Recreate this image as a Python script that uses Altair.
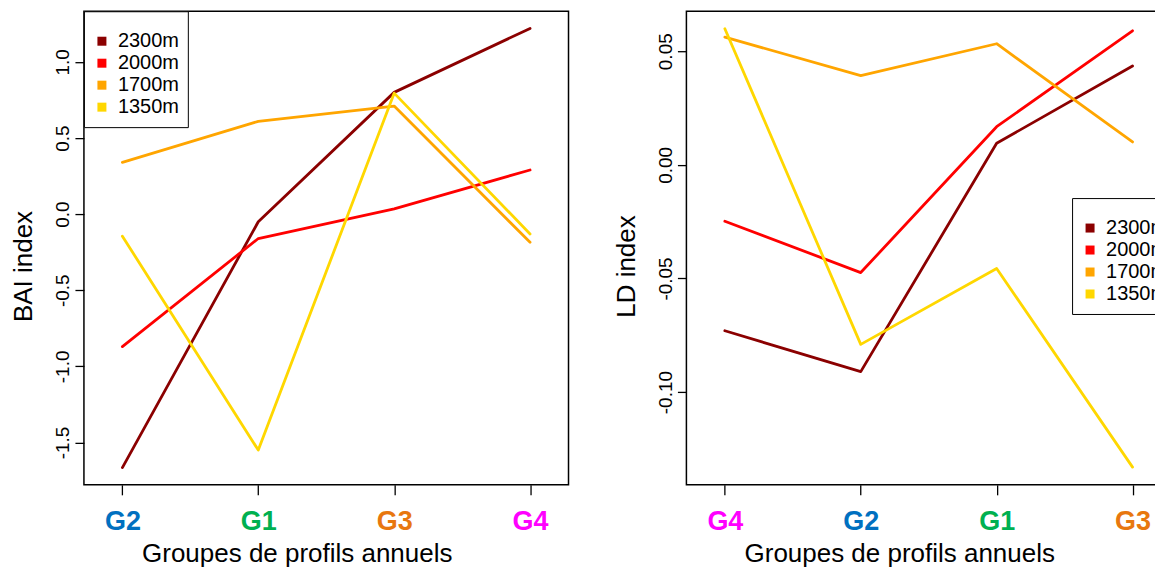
import altair as alt
import pandas as pd

# ---------------- data ----------------
series = ["2300m", "2000m", "1700m", "1350m"]
series_colors = ["#8B0000", "#FF0000", "#FFA500", "#FFD700"]

bai_groups = ["G2", "G1", "G3", "G4"]
bai_2300 = [-1.665, -0.05, 0.80, 1.22]
bai_2000 = [-0.87, -0.16, 0.035, 0.29]
bai_1700 = [0.34, 0.61, 0.71, -0.185]
bai_1350 = [-0.145, -1.55, 0.795, -0.13]

ld_groups = ["G4", "G2", "G1", "G3"]
ld_2300 = [-0.073, -0.091, 0.0095, 0.0435]
ld_2000 = [-0.0248, -0.0474, 0.0168, 0.059]
ld_1700 = [0.0562, 0.0393, 0.0533, 0.0101]
ld_1350 = [0.0599, -0.079, -0.0456, -0.133]

group_names = ["G1", "G2", "G3", "G4"]
group_colors = ["#00B050", "#0070C0", "#E8770F", "#FF00FF"]

bai_ticks = [-1.5, -1.0, -0.5, 0.0, 0.5, 1.0]
ld_ticks = [-0.10, -0.05, 0.0, 0.05]

x_title = "Groupes de profils annuels"
FONT = "Liberation Sans"


def make_df(groups, vals_list):
    rows = []
    for s, vals in zip(series, vals_list):
        for g, v in zip(groups, vals):
            rows.append({"groupe": g, "altitude": s, "value": v})
    return pd.DataFrame(rows)


bai_df = make_df(bai_groups, [bai_2300, bai_2000, bai_1700, bai_1350])
ld_df = make_df(ld_groups, [ld_2300, ld_2000, ld_1700, ld_1350])

label_color = {
    "condition": [
        {"test": f"datum.value === '{g}'", "value": c}
        for g, c in zip(group_names, group_colors)
    ],
    "value": "black",
}

PW, PH = 485, 474


def legend_props(**kw):
    return alt.Legend(
        title=" ",
        titleFontSize=12,
        titlePadding=0,
        padding=8,
        strokeColor="black",
        fillColor="white",
        labelFont=FONT,
        labelFontSize=20,
        labelColor="black",
        labelOffset=6,
        rowPadding=-2.5,
        symbolType="square",
        symbolSize=16,
        symbolStrokeWidth=5,
        symbolOpacity=1,
        **kw,
    )


def panel(df, groups, ydomain, yticks, fmt, ytitle, legend):
    x = alt.X(
        "groupe:N",
        sort=groups,
        scale=alt.Scale(type="point", domain=groups, padding=0.283),
        axis=alt.Axis(
            title=x_title,
            domain=False,
            grid=False,
            ticks=True,
            tickSize=10,
            tickColor="black",
            tickWidth=1.3,
            labelAngle=0,
            labelFont=FONT,
            labelFontSize=27,
            labelFontWeight="bold",
            labelColor=label_color,
            labelBaseline="alphabetic",
            labelPadding=35,
            titleFont=FONT,
            titleFontSize=26,
            titleFontWeight="normal",
            titleColor="black",
            titleX=213,
            titleY=77,
            titleAlign="center",
            titleBaseline="alphabetic",
        ),
    )
    y = alt.Y(
        "value:Q",
        scale=alt.Scale(domain=ydomain, nice=False, zero=False),
        axis=alt.Axis(
            title=ytitle,
            values=yticks,
            labelExpr=f"datum.value < 0 ? '-' + format(-datum.value, '{fmt}') : format(datum.value, '{fmt}')",
            domain=False,
            grid=False,
            tickSize=9,
            tickColor="black",
            tickWidth=1.3,
            labelAngle=270,
            labelAlign="center",
            labelBaseline="alphabetic",
            labelPadding=6,
            labelFont=FONT,
            labelFontSize=19,
            labelColor="black",
            titleFont=FONT,
            titleFontSize=26,
            titleFontWeight="normal",
            titleColor="black",
            titleAngle=270,
            titleX=-52,
            titleY=255,
            titleAlign="center",
            titleBaseline="alphabetic",
        ),
    )
    color = alt.Color(
        "altitude:N",
        scale=alt.Scale(domain=series, range=series_colors),
        legend=legend,
    )
    return (
        alt.Chart(df)
        .mark_line(strokeWidth=2.8, strokeJoin="round", strokeCap="round")
        .encode(x=x, y=y, color=color)
        .properties(width=PW, height=PH)
    )


left = panel(
    bai_df, bai_groups, [-1.778, 1.333], bai_ticks, ".1f", "BAI index",
    legend_props(orient="top-left", offset=0),
)
right = panel(
    ld_df, ld_groups, [-0.1408, 0.0676], ld_ticks, ".2f", "LD index",
    legend_props(orient="none", legendX=386, legendY=187),
)

chart = (
    alt.hconcat(left, right, spacing=43)
    .resolve_scale(y="independent", x="independent", color="independent")
    .properties(
        padding={"left": 2, "top": 1, "right": -23, "bottom": -0.5},
        background="white",
    )
    .configure_view(stroke="black", strokeWidth=1.5)
)

chart.save("out.html", embed_options={"renderer": "svg", "actions": False})
